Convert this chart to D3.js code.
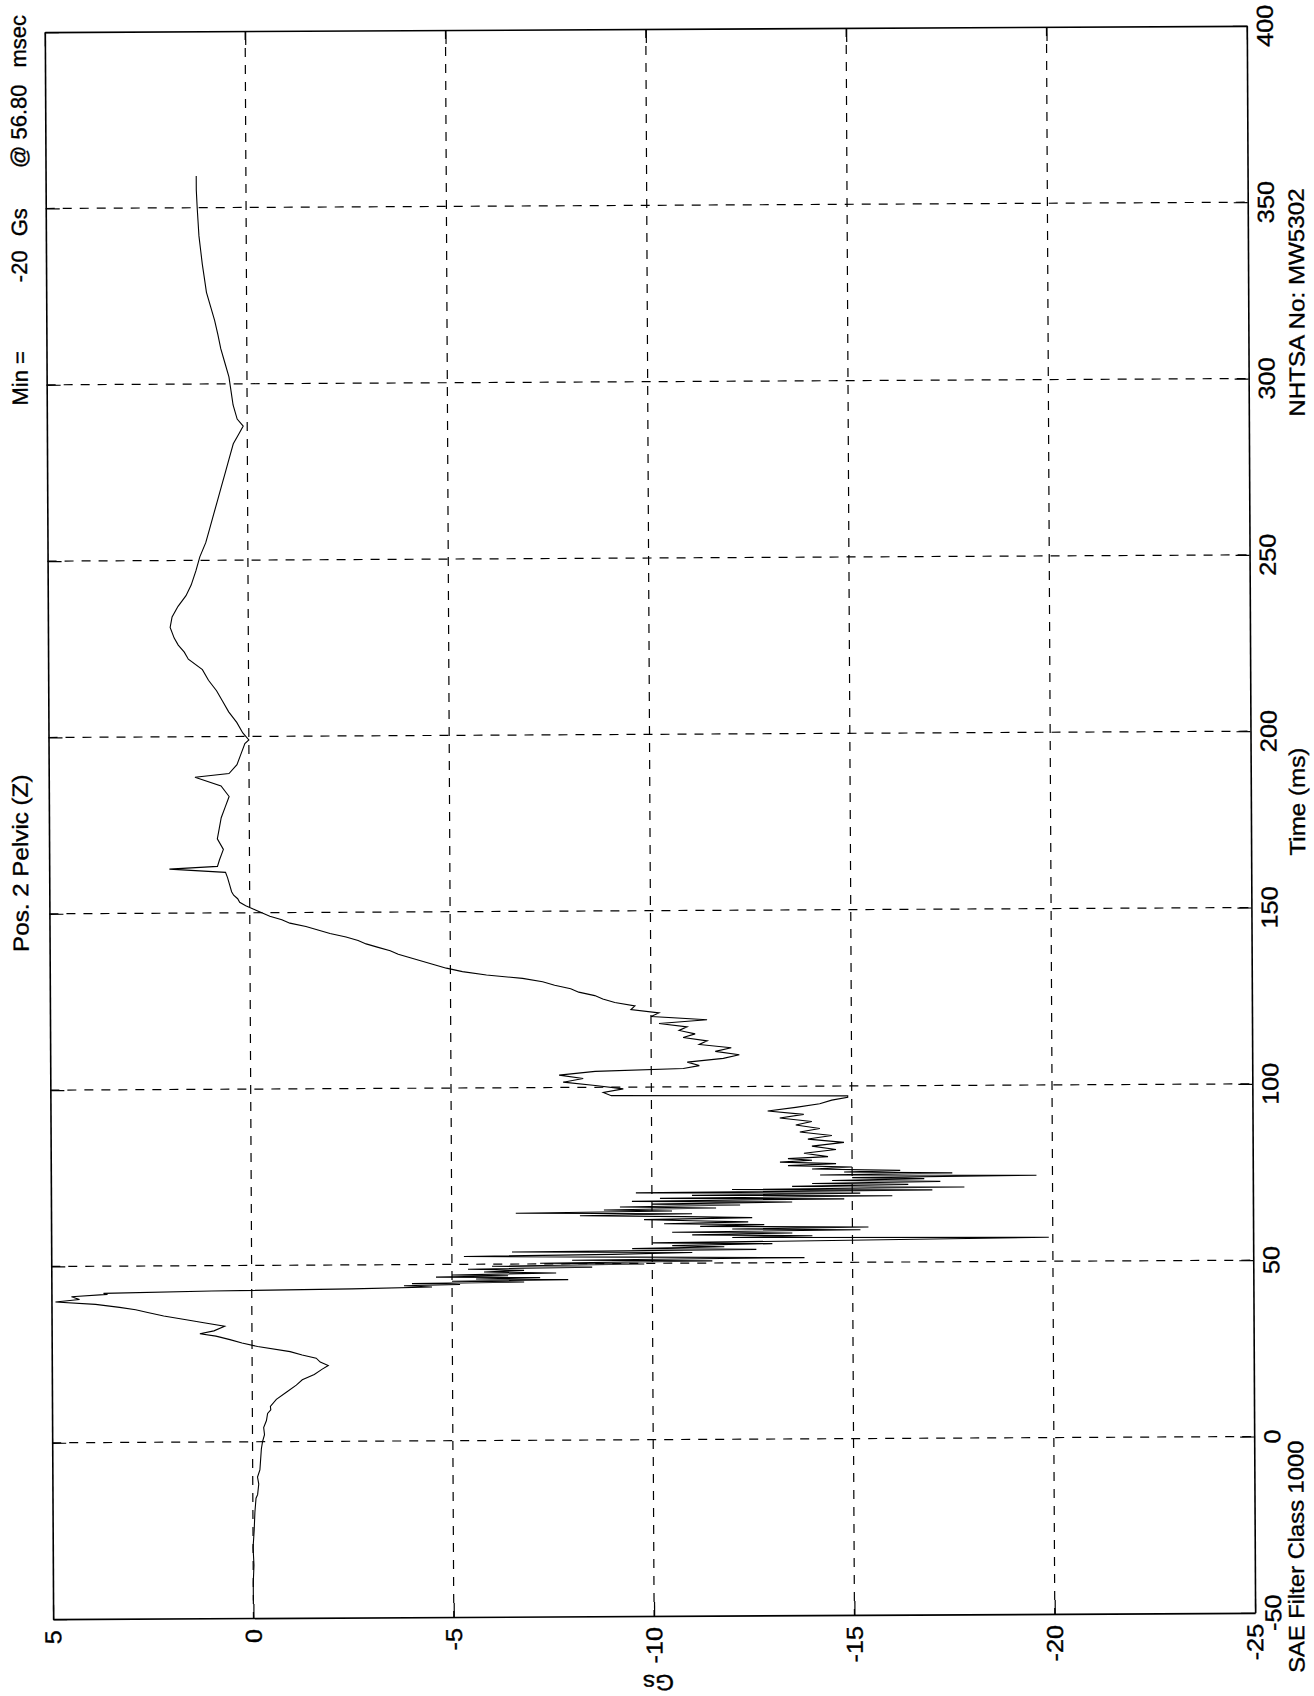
<!DOCTYPE html>
<html>
<head>
<meta charset="utf-8">
<script src="https://cdn.jsdelivr.net/npm/d3@7/dist/d3.min.js"></script>
<style>
  html, body { margin: 0; padding: 0; background: #fff; }
  svg { display: block; }
  text { font-family: "Liberation Sans", Arial, Helvetica, sans-serif; fill: #000; stroke: #000; stroke-width: 0.35px; }
</style>
</head>
<body>
<svg id="chart" width="1314" height="1696"></svg>
<script>
// ---------------- data ----------------
const chartTitle = "Pos. 2 Pelvic (Z)";
const minLabelParts = ["Min =", "-20", "Gs", "@ 56.80", "msec"];
const xAxisTitle = "Time (ms)";
const yAxisTitle = "Gs";
const filterNote = "SAE Filter Class 1000";
const testNote = "NHTSA No: MW5302";

const timeTicks = [-50, 0, 50, 100, 150, 200, 250, 300, 350, 400];
const gsTicks = [5, 0, -5, -10, -15, -20, -25];

const timeMs = [
  -45, -40, -35, -30, -25, -20, -16, -15, -12, -10, -8, -5, -2, 0, 2, 4, 6, 8, 9, 10,
  12, 14, 16, 17.5, 19, 20.5, 21.5, 22.5, 23.6, 24.5, 25.5, 27, 28, 29, 30, 30.7,
  31.5, 32.8, 33.8, 34.7, 35.8, 36.8, 37.6, 38.3, 39.2, 39.9, 40.6, 41.4, 42.0, 42.3,
  42.8, 43.2, 43.6, 44.0, 44.3, 44.6, 44.9, 45.2, 45.5, 45.8, 46.1, 46.4, 46.7, 47.0,
  47.4, 47.8, 48.2, 48.6, 49.0, 49.4, 49.8, 50.2, 50.6, 51.0, 51.4, 51.8, 52.2, 52.6,
  53.0, 53.4, 53.8, 54.2, 54.6, 55.0, 55.4, 55.8, 56.2, 56.8, 57.2, 57.6, 58.0, 58.4,
  58.8, 59.2, 59.6, 60.0, 60.4, 60.8, 61.2, 61.6, 62.0, 62.4, 62.8, 63.2, 63.6, 64.0,
  64.4, 64.8, 65.2, 65.6, 66.0, 66.4, 66.8, 67.2, 67.6, 68.0, 68.4, 68.8, 69.2, 69.6,
  70.0, 70.4, 70.8, 71.2, 71.6, 72.0, 72.4, 72.8, 73.2, 73.6, 74.0, 74.4, 74.8, 75.2,
  75.6, 76.0, 76.5, 77.0, 77.5, 78.0, 78.5, 79.0, 79.5, 80.0, 81, 82, 83, 84, 85, 86,
  87, 88, 89, 90, 91, 92, 93, 94, 95, 96, 96.8, 97.2, 97.6, 98.5, 99.5, 100.5, 101.5,
  102.5, 103.5, 104.5, 105.2, 106, 107, 108, 109, 110, 111, 112, 113, 114, 115, 116,
  117, 118, 119, 120, 121, 122, 123, 124, 125, 126, 127, 128, 129, 130, 131, 132, 133,
  134, 135, 136, 137, 138, 139, 140, 141, 142, 143, 144, 145, 146, 147, 148, 149, 150,
  151, 152, 153, 154, 155, 156, 158, 160, 161.5, 162.5, 163.2, 165, 168, 171, 174, 177,
  180, 183, 186, 188.5, 189.5, 192, 195, 198, 199, 201, 204, 207, 210, 213, 216, 219,
  222, 224, 226, 228, 231, 234, 237, 240, 243, 247, 251, 255, 259, 263, 267, 271, 275,
  279, 283, 286, 288, 290, 294, 298, 302, 306, 310, 314, 318, 322, 326, 330, 334, 338,
  342, 346, 350, 355, 359
];

const pelvicGs = [
  0.0, 0.0, -0.02, 0.0, -0.03, -0.05, -0.08, -0.12, -0.15, -0.12, -0.18, -0.2, -0.22, -0.25, -0.3, -0.28, -0.35, -0.38, -0.46, -0.45,
  -0.6, -0.85, -1.1, -1.25, -1.55, -1.75, -1.9, -1.7, -1.6, -1.25, -0.95, -0.14, 0.25, 0.55, 0.9, 1.3,
  0.95, 0.68, 1.2, 1.64, 2.2, 2.6, 2.9, 3.3, 3.9, 4.9, 4.3, 4.5, 3.6, 3.7,
  1.0, -2.5, -4.5, -3.8, -5.2, -4.0, -6.8, -5.0, -7.9, -5.6, -7.2, -4.6, -6.4, -5.0,
  -7.6, -5.8, -6.8, -5.4, -8.5, -6.0, -9.8, -7.2, -11.5, -8.0, -13.8, -9.5, -5.3, -9.0,
  -11.0, -6.5, -12.6, -9.5, -11.8, -10.5, -13.0, -10.0, -14.5, -19.9, -12.0, -14.0, -11.0, -13.5,
  -10.5, -15.2, -12.0, -15.4, -11.2, -12.8, -10.3, -12.4, -11.0, -9.8, -12.5, -10.8, -8.2, -11.0,
  -6.6, -10.5, -8.8, -11.6, -9.2, -12.2, -10.0, -13.5, -9.5, -14.8, -10.2, -16.0, -11.0, -15.2,
  -9.6, -17.0, -12.0, -17.8, -13.5, -16.4, -14.0, -17.2, -14.5, -16.8, -15.0, -19.6, -14.2, -17.5,
  -14.8, -16.2, -14.0, -15.0, -13.4, -14.6, -13.2, -14.0, -13.4, -14.4, -13.8, -14.6, -14.0, -14.8, -13.9, -14.5,
  -13.7, -14.2, -13.6, -14.0, -13.2, -13.8, -12.9, -13.6, -14.2, -14.5, -14.9, -14.9, -9.0, -8.8, -9.3, -8.6, -7.8,
  -8.3, -7.7, -8.6, -10.8, -11.2, -10.9, -11.8, -12.2, -11.6, -12.0, -11.2, -11.4, -10.8, -11.1, -10.7,
  -10.9, -10.2, -11.4, -10.0, -10.2, -9.5, -9.6, -9.1, -8.8, -8.6, -8.2, -8.0, -7.6, -7.3, -6.8, -5.9, -5.3,
  -4.9, -4.6, -4.3, -4.0, -3.7, -3.5, -3.2, -2.9, -2.7, -2.4, -2.0, -1.7, -1.4, -1.0, -0.8, -0.5, -0.3,
  -0.1, 0.1, 0.25, 0.3, 0.4, 0.45, 0.5, 0.55, 0.6, 2.0, 0.8, 0.75, 0.65, 0.8, 0.75, 0.7,
  0.6, 0.5, 0.7, 1.35, 0.5, 0.3, 0.2, 0.1, 0.0, 0.15, 0.3, 0.5, 0.65, 0.8, 1.0, 1.15,
  1.5, 1.6, 1.75, 1.85, 1.95, 1.9, 1.75, 1.55, 1.42, 1.3, 1.2, 1.05, 0.95, 0.85, 0.75, 0.65, 0.55,
  0.45, 0.35, 0.2, 0.1, 0.25, 0.35, 0.4, 0.45, 0.55, 0.65, 0.72, 0.8, 0.9, 1.0, 1.05, 1.1, 1.14,
  1.18, 1.2, 1.22, 1.24, 1.24
];

(function () {
// ---------------- layout ----------------
const W = 1314, H = 1696;
const pL = 49, pR = 1251, pT = 29, pB = 1616;
const FONT = 22, TICKFONT = 23, TICK = 14;

const svg = d3.select("#chart");
svg.append("rect").attr("width", W).attr("height", H).attr("fill", "#fff");
// scanned page is tilted slightly
const g = svg.append("g").attr("transform", "rotate(-0.3, 650, 830)");

// Gs runs left->right (5 .. -25); time runs bottom->top
const x = d3.scaleLinear().domain([5, -25]).range([pL, pR]);
const y = d3.scaleLinear().domain([-50, 400]).range([pB, pT]);

// dashed grid
g.append("g").selectAll("line").data(gsTicks.filter(v => v < 5 && v > -25)).join("line")
  .attr("x1", d => x(d)).attr("x2", d => x(d)).attr("y1", pT).attr("y2", pB)
  .attr("stroke", "#000").attr("stroke-width", 1.2).attr("stroke-dasharray", "9,8");
g.append("g").selectAll("line").data(timeTicks.filter(v => v > -50 && v < 400)).join("line")
  .attr("y1", d => y(d)).attr("y2", d => y(d)).attr("x1", pL).attr("x2", pR)
  .attr("stroke", "#000").attr("stroke-width", 1.2).attr("stroke-dasharray", "9,8");

// axes (inward ticks on all sides)
const noLab = () => "";
g.append("g").attr("transform", `translate(0,${pB})`)
  .call(d3.axisBottom(x).tickValues(gsTicks).tickSize(-TICK).tickSizeOuter(0).tickFormat(noLab));
g.append("g").attr("transform", `translate(0,${pT})`)
  .call(d3.axisTop(x).tickValues(gsTicks).tickSize(-TICK).tickSizeOuter(0).tickFormat(noLab));
g.append("g").attr("transform", `translate(${pR},0)`)
  .call(d3.axisRight(y).tickValues(timeTicks).tickSize(-TICK).tickSizeOuter(0).tickFormat(noLab));
g.append("g").attr("transform", `translate(${pL},0)`)
  .call(d3.axisLeft(y).tickValues(timeTicks).tickSize(-TICK).tickSizeOuter(0).tickFormat(noLab));
g.selectAll(".domain").attr("stroke", "#000").attr("stroke-width", 1.6);
g.selectAll(".tick line").attr("stroke", "#000").attr("stroke-width", 1.2);

// data trace
const n = Math.min(timeMs.length, pelvicGs.length);
const pts = d3.range(n).map(i => [timeMs[i], pelvicGs[i]]);
g.append("path").datum(pts)
  .attr("fill", "none").attr("stroke", "#000").attr("stroke-width", 1.1)
  .attr("d", d3.line().x(d => x(d[1])).y(d => y(d[0])));

// rotated text helper
function rtext(px, py, rot, anchor, str, opts) {
  opts = opts || {};
  const sx = opts.stretch || 1.0;
  const t = g.append("text")
    .attr("transform", `translate(${px},${py}) rotate(${rot}) scale(${sx},1)`)
    .attr("text-anchor", anchor)
    .attr("font-size", opts.size || FONT)
    .text(str);
  if (opts.dy) t.attr("dy", opts.dy);
  return t;
}

// Gs tick labels (below frame)
gsTicks.forEach(v => rtext(x(v), pB + 11, -90, "end", String(v), { dy: "0.35em", size: TICKFONT, stretch: 1.1 }));
// time tick labels (right of frame)
timeTicks.forEach(v => rtext(pR + 26, y(v), -90, "middle", String(v), { size: TICKFONT, stretch: 1.1 }));

// axis titles
rtext(1305, 805, -90, "middle", xAxisTitle, { stretch: 1.1 });
rtext(x(-10) + 4, 1675, 180, "middle", yAxisTitle, { stretch: 1.1 });

// title and min annotation (left side)
rtext(28, 860, -90, "middle", chartTitle, { stretch: 1.1 });
const minPos = [375, 263, 219, 123, 38];
minLabelParts.forEach((s, i) => rtext(30, minPos[i], -90, "middle", s));

// notes at the page edge
rtext(1307, 306, -90, "middle", testNote, { stretch: 1.1 });
rtext(1300, 1444, -90, "end", filterNote, { stretch: 1.08 });
})();
</script>
</body>
</html>
